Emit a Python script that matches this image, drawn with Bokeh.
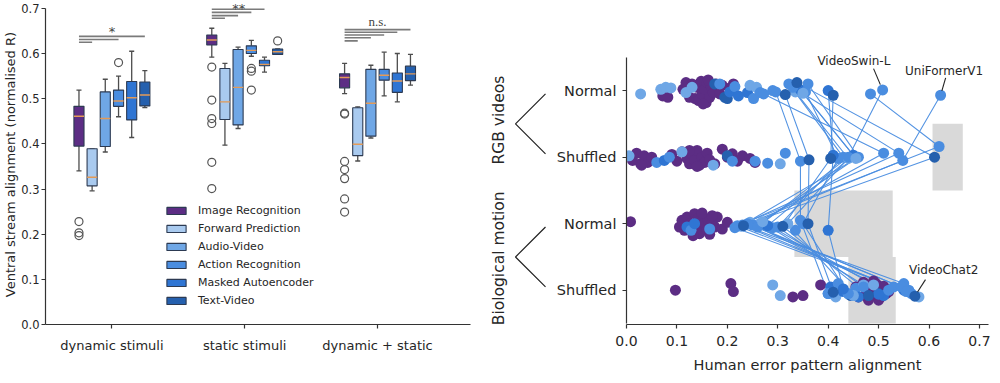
import numpy as np
from bokeh.plotting import figure
from bokeh.models import (Range1d, FixedTicker, PrintfTickFormatter, Legend,
                          LegendItem, ColumnDataSource)
from bokeh.layouts import row
from bokeh.embed import file_html
from bokeh.resources import INLINE
from bokeh.core.properties import value

FONT = "DejaVu Sans"
TXT = "#262626"

# ================= LEFT PANEL DATA =================
stimuli = ["dynamic stimuli", "static stimuli", "dynamic + static"]
families = ["Image Recognition", "Forward Prediction", "Audio-Video",
            "Action Recognition", "Masked Autoencoder", "Text-Video"]
family_colors = ["#5c2d84", "#a9caef", "#6fa7e6", "#4a8de0", "#2f75d3", "#2560ae"]

# one list per family: [dynamic, static, dynamic + static]
whisker_high = [[0.519, 0.656, 0.578], [0.389, 0.578, 0.482], [0.543, 0.614, 0.574],
                [0.550, 0.629, 0.603], [0.605, 0.592, 0.600], [0.562, 0.610, 0.598]]
q3 = [[0.483, 0.641, 0.555], [0.389, 0.567, 0.480], [0.515, 0.609, 0.565],
      [0.519, 0.617, 0.565], [0.538, 0.585, 0.557], [0.537, 0.610, 0.572]]
median = [[0.461, 0.630, 0.547], [0.326, 0.493, 0.399], [0.456, 0.525, 0.490],
          [0.495, 0.607, 0.552], [0.502, 0.576, 0.539], [0.508, 0.604, 0.555]]
q1 = [[0.395, 0.619, 0.524], [0.307, 0.454, 0.374], [0.394, 0.442, 0.417],
      [0.483, 0.600, 0.541], [0.453, 0.573, 0.514], [0.484, 0.598, 0.540]]
whisker_low = [[0.340, 0.592, 0.511], [0.296, 0.397, 0.362], [0.382, 0.434, 0.413],
               [0.460, 0.594, 0.506], [0.414, 0.559, 0.493], [0.480, 0.598, 0.530]]

outlier_family = [0, 0, 0, 3, 0, 0, 0, 0, 0, 0, 3, 3, 3, 5, 0, 0, 0, 0, 0, 0, 0]
outlier_stim = [0, 0, 0, 0, 1, 1, 1, 1, 1, 1, 1, 1, 1, 1, 2, 2, 2, 2, 2, 2, 2]
outlier_value = [0.228, 0.203, 0.197, 0.580, 0.570, 0.497, 0.456, 0.445, 0.359, 0.301,
                 0.567, 0.561, 0.519, 0.628, 0.468, 0.466, 0.361, 0.343, 0.323, 0.278, 0.249]

# significance bars: from Image Recognition to family index
sig_stim = [0, 0, 0, 1, 1, 1, 1, 2, 2, 2, 2, 2]
sig_to = [5, 3, 1, 4, 3, 2, 1, 5, 4, 3, 2, 1]
sig_level = [0.638, 0.631, 0.625, 0.698, 0.691, 0.684, 0.678,
             0.653, 0.647, 0.641, 0.635, 0.628]
sig_labels = ["*", "**", "n.s."]
sig_label_x = [0.0, 0.955, 2.0]
sig_label_y = [0.648, 0.7152, 0.671]

box_offsets = [-0.248, -0.149, -0.05, 0.05, 0.149, 0.248]
BW, CW = 0.076, 0.038

# ================= RIGHT PANEL DATA =================
row_labels = ["Normal", "Shuffled", "Normal", "Shuffled"]
group_labels = ["RGB videos", "Biological motion"]

# video models connected across the four conditions
lm_family = [3, 3, 3, 2, 4, 3, 3, 4, 5, 3, 3, 3, 3, 5, 5, 2]
lm_rgb_normal = [0.272, 0.296, 0.322, 0.335, 0.345, 0.360, 0.355, 0.400,
                 0.410, 0.484, 0.508, 0.623, 0.330, 0.315, 0.338, 0.350]
lm_rgb_shuffled = [0.510, 0.345, 0.430, 0.440, 0.450, 0.460, 0.420, 0.410,
                   0.405, 0.620, 0.440, 0.548, 0.540, 0.362, 0.611, 0.455]
lm_bio_normal = [0.250, 0.345, 0.300, 0.320, 0.280, 0.230, 0.350, 0.400,
                 0.310, 0.220, 0.260, 0.240, 0.215, 0.360, 0.232, 0.270]
lm_bio_shuffled = [0.560, 0.400, 0.470, 0.450, 0.500, 0.550, 0.440, 0.430,
                   0.480, 0.565, 0.520, 0.545, 0.555, 0.410, 0.572, 0.490]
lm_jit_rgb_normal = [0.05, 0.02, -0.10, 0.02, -0.01, -0.10, 0.02, 0.00,
                     0.07, 0.05, -0.01, 0.07, -0.05, 0.06, -0.12, 0.04]
lm_jit_rgb_shuffled = [-0.06, 0.06, 0.00, 0.02, -0.03, 0.00, 0.02, -0.03,
                       0.02, -0.16, 0.00, 0.05, -0.06, 0.04, 0.00, 0.02]
lm_jit_bio_normal = [0.02, -0.05, 0.05, 0.00, 0.03, 0.02, 0.00, 0.10,
                     0.04, 0.03, 0.05, 0.00, 0.06, 0.00, 0.03, -0.03]
lm_jit_bio_shuffled = [0.00, 0.05, -0.05, 0.08, 0.06, -0.10, 0.05, -0.02,
                       0.08, 0.05, 0.00, -0.05, 0.02, 0.03, 0.09, -0.08]

# image-recognition models (no lines)
rgbN_img_x = [0.072, 0.082, 0.112, 0.118, 0.125, 0.130, 0.136, 0.140, 0.143, 0.148, 0.150, 0.155, 0.158,
              0.160, 0.165, 0.168, 0.172, 0.178, 0.185, 0.190, 0.198, 0.205, 0.212, 0.152, 0.162]
rgbN_img_j = [0.08, 0.10, -0.02, -0.12, 0.10, -0.10, 0.12, -0.05, 0.15, -0.14, 0.05, -0.02, 0.18,
              -0.12, 0.10, -0.06, 0.03, -0.10, 0.05, -0.08, 0.10, -0.04, -0.10, 0.20, -0.16]
rgbS_img_x = [0.012, 0.020, 0.028, 0.035, 0.042, 0.050, 0.090, 0.100, 0.110, 0.120, 0.125, 0.130, 0.135,
              0.140, 0.145, 0.150, 0.155, 0.160, 0.165, 0.175, 0.190, 0.200, 0.210, 0.220, 0.230, 0.245,
              0.255, 0.140, 0.125, 0.030]
rgbS_img_j = [0.05, -0.06, 0.10, -0.02, 0.08, 0.00, -0.04, 0.06, -0.08, 0.02, 0.10, -0.05, 0.05,
              -0.10, 0.12, 0.00, 0.08, -0.06, 0.04, 0.10, -0.12, 0.00, -0.05, 0.06, -0.02, 0.02,
              0.08, 0.14, -0.10, 0.12]
bioN_img_x = [0.008, 0.105, 0.110, 0.115, 0.120, 0.125, 0.130, 0.135, 0.140, 0.142, 0.145, 0.150,
              0.155, 0.160, 0.162, 0.165, 0.170, 0.175, 0.180, 0.190, 0.200, 0.132, 0.150, 0.170]
bioN_img_j = [-0.03, 0.05, -0.05, 0.10, -0.10, 0.00, 0.12, -0.15, 0.05, -0.08, 0.15, -0.12,
              0.00, 0.10, -0.06, 0.16, -0.02, 0.05, -0.10, 0.08, -0.02, 0.18, -0.16, -0.12]
bioS_img_x = [0.097, 0.207, 0.212, 0.330, 0.350, 0.385, 0.455, 0.460, 0.470, 0.475, 0.480,
              0.485, 0.490, 0.495, 0.500, 0.505, 0.510, 0.515, 0.520, 0.500, 0.490, 0.480]
bioS_img_j = [0.00, -0.10, 0.02, 0.10, 0.08, -0.08, -0.05, 0.10, -0.12, 0.05, 0.12,
              -0.02, 0.08, -0.10, 0.00, 0.10, -0.06, 0.05, 0.02, 0.15, -0.14, 0.15]

# other video models (no lines)
rgbN_vid_x = [0.028, 0.068, 0.078, 0.088, 0.118, 0.130, 0.175, 0.185, 0.195, 0.200,
              0.205, 0.215, 0.222, 0.240, 0.245, 0.252, 0.258, 0.265, 0.290]
rgbN_vid_j = [0.05, -0.02, -0.05, -0.04, 0.03, -0.05, -0.10, -0.10, 0.10, 0.12,
              0.02, -0.06, 0.08, 0.03, -0.08, 0.12, -0.05, 0.03, 0.00]
rgbN_vid_f = [2, 2, 2, 2, 2, 2, 5, 3, 5, 5, 4, 3, 4, 4, 2, 3, 2, 3, 3]
rgbS_vid_x = [0.005, 0.060, 0.075, 0.085, 0.110, 0.172, 0.200, 0.210, 0.255, 0.280, 0.305, 0.315]
rgbS_vid_j = [-0.02, 0.08, 0.05, 0.00, -0.08, 0.12, -0.02, 0.06, 0.06, 0.09, 0.10, -0.06]
rgbS_vid_f = [2, 3, 4, 3, 2, 2, 5, 3, 3, 3, 2, 3]
bioN_vid_x = [0.120, 0.128, 0.135, 0.165, 0.228, 0.245, 0.272, 0.290, 0.335]
bioN_vid_j = [0.05, 0.10, 0.00, 0.08, 0.04, -0.02, 0.00, 0.06, 0.10]
bioN_vid_f = [4, 3, 4, 3, 2, 2, 5, 3, 3]
bioS_vid_x = [0.290, 0.305, 0.400, 0.405, 0.415, 0.420, 0.430, 0.440, 0.445, 0.455,
              0.460, 0.470, 0.500, 0.510, 0.530, 0.550, 0.580]
bioS_vid_j = [-0.08, 0.08, 0.05, -0.05, 0.10, -0.10, 0.02, 0.06, 0.08, -0.03,
              0.10, -0.08, 0.05, 0.08, -0.05, 0.00, 0.10]
bioS_vid_f = [2, 2, 3, 4, 2, 3, 4, 2, 5, 3, 4, 2, 5, 4, 3, 4, 2]

# grey ceiling bands
ceiling_row = [1, 2, 3]
ceiling_low = [0.607, 0.333, 0.440]
ceiling_high = [0.667, 0.528, 0.534]

# annotated models
annot_text = ["VideoSwin-L", "UniFormerV1", "VideoChat2"]
annot_model = [10, 11, 14]
annot_row = [0, 0, 3]
annot_tx = [0.451, 0.630, 0.629]
annot_ty = [-0.45, -0.30, 2.70]
annot_ax = [0.490, 0.633, 0.593]
annot_ay = [-0.33, -0.19, 2.84]


def style_axes(p, size_ticks):
    for ax in (p.xaxis, p.yaxis):
        ax.axis_line_color = "#333333"
        ax.axis_line_width = 1.2
        ax.major_tick_line_color = "#333333"
        ax.major_tick_line_width = 1.2
        ax.major_tick_out = 4
        ax.major_tick_in = 0
        ax.minor_tick_line_color = None
        ax.major_label_text_font = FONT
        ax.major_label_text_color = TXT
        ax.major_label_text_font_size = size_ticks
        ax.axis_label_text_font = FONT
        ax.axis_label_text_color = TXT
        ax.axis_label_text_font_style = "normal"


H = 375
# ================= LEFT FIGURE =================
p1 = figure(width=475, height=H, output_backend="svg", toolbar_location=None,
            x_range=Range1d(-0.5, 2.7), y_range=Range1d(0, 0.7174),
            min_border_left=45, min_border_right=5, min_border_top=0, min_border_bottom=50)
p1.outline_line_color = None
p1.grid.visible = False
style_axes(p1, "11.5px")
p1.yaxis.ticker = FixedTicker(ticks=[0, 0.1, 0.2, 0.3, 0.4, 0.5, 0.6, 0.7])
p1.yaxis.formatter = PrintfTickFormatter(format="%.1f")
p1.yaxis.bounds = (0, 0.7)
p1.yaxis.axis_label = "Ventral stream alignment  (normalised R)"
p1.yaxis.axis_label_text_font_size = "13px"
p1.yaxis.axis_label_standoff = 0
p1.yaxis.major_label_standoff = 2
p1.xaxis.ticker = FixedTicker(ticks=[0, 1, 2])
p1.xaxis.major_label_overrides = {0: stimuli[0], 1: stimuli[1], 2: stimuli[2]}
p1.xaxis.major_label_text_font_size = "13px"
p1.xaxis.major_label_standoff = 9

legend_items = []
for f in range(6):
    xc = [s + box_offsets[f] for s in range(3)]
    src = ColumnDataSource(dict(
        x=xc, lo=whisker_low[f], q1=q1[f], med=median[f], q3=q3[f], hi=whisker_high[f],
        l=[x - BW / 2 for x in xc], r=[x + BW / 2 for x in xc],
        cl=[x - CW / 2 for x in xc], cr=[x + CW / 2 for x in xc]))
    p1.segment(x0="x", y0="lo", x1="x", y1="q1", source=src, line_color="#4d4d4d", line_width=1.3)
    p1.segment(x0="x", y0="q3", x1="x", y1="hi", source=src, line_color="#4d4d4d", line_width=1.3)
    p1.segment(x0="cl", y0="hi", x1="cr", y1="hi", source=src, line_color="#4d4d4d", line_width=1.3)
    p1.segment(x0="cl", y0="lo", x1="cr", y1="lo", source=src, line_color="#4d4d4d", line_width=1.3)
    r = p1.quad(left="l", right="r", bottom="q1", top="q3", source=src,
                fill_color=family_colors[f], line_color="#2c3a52", line_width=1.1)
    p1.segment(x0="l", y0="med", x1="r", y1="med", source=src, line_color="#e39a57", line_width=1.4)
    legend_items.append(LegendItem(label=families[f], renderers=[r]))

p1.scatter(x=[outlier_stim[i] + box_offsets[outlier_family[i]] for i in range(len(outlier_value))],
           y=outlier_value, marker="circle", size=8, fill_color=None,
           line_color="#555555", line_width=1.2)

p1.segment(x0=[s + box_offsets[0] for s in sig_stim],
           x1=[sig_stim[i] + box_offsets[sig_to[i]] for i in range(len(sig_stim))],
           y0=sig_level, y1=sig_level, line_color="#7a7a7a", line_width=1.6)
p1.text(x=sig_label_x[:1], y=sig_label_y[:1], text=sig_labels[:1], text_align="center",
        text_baseline="alphabetic", text_font=value(FONT), text_font_size="13px",
        text_color="#444444")
p1.text(x=sig_label_x[1:2], y=sig_label_y[1:2], text=sig_labels[1:2], text_align="center",
        text_baseline="top", text_font=value(FONT), text_font_size="13px",
        text_color="#444444")
p1.text(x=sig_label_x[2:], y=sig_label_y[2:], text=sig_labels[2:], text_align="center",
        text_baseline="alphabetic", text_font=value("Liberation Serif"), text_font_size="13px",
        text_color="#444444")

legend = Legend(items=legend_items, location=(119, 17), padding=0, margin=0, spacing=5,
                glyph_width=24, glyph_height=9, label_height=12, label_standoff=10,
                label_text_font=FONT, label_text_font_size="11px", label_text_color=TXT,
                border_line_color=None, background_fill_alpha=0)
p1.add_layout(legend)

# ================= RIGHT FIGURE =================
yr = Range1d(3.515, -1.354)
p2 = figure(width=448, height=H, output_backend="svg", toolbar_location=None,
            x_range=Range1d(0, 0.718), y_range=yr,
            min_border_left=74, min_border_right=12, min_border_top=0, min_border_bottom=50)
p2.outline_line_color = None
p2.grid.visible = False
style_axes(p2, "14.5px")
p2.xaxis.ticker = FixedTicker(ticks=[0, 0.1, 0.2, 0.3, 0.4, 0.5, 0.6, 0.7])
p2.xaxis.formatter = PrintfTickFormatter(format="%.1f")
p2.xaxis.major_label_text_font_size = "14px"
p2.xaxis.major_label_standoff = 7
p2.xaxis.axis_label = "Human error pattern alignment"
p2.xaxis.axis_label_text_font_size = "14.5px"
p2.xaxis.axis_label_standoff = 8
p2.yaxis.ticker = FixedTicker(ticks=[0, 1, 2, 3])
p2.yaxis.major_label_overrides = {i: row_labels[i] for i in range(4)}
p2.yaxis.bounds = (-0.5, 3.5)
p2.yaxis.major_label_standoff = 6

p2.quad(left=ceiling_low, right=ceiling_high,
        bottom=[r - 0.5 for r in ceiling_row], top=[r + 0.5 for r in ceiling_row],
        fill_color="#d9d9d9", line_color=None)

n_lm = len(lm_family)
lm_xs = [[lm_rgb_normal[i], lm_rgb_shuffled[i], lm_bio_normal[i], lm_bio_shuffled[i]]
         for i in range(n_lm)]
lm_ys = [[0 + lm_jit_rgb_normal[i], 1 + lm_jit_rgb_shuffled[i],
          2 + lm_jit_bio_normal[i], 3 + lm_jit_bio_shuffled[i]] for i in range(n_lm)]
p2.multi_line(xs=lm_xs, ys=lm_ys, line_color="#4a8de0", line_width=1.1, line_alpha=0.95)

img_x = rgbN_img_x + rgbS_img_x + bioN_img_x + bioS_img_x
img_y = ([0 + j for j in rgbN_img_j] + [1 + j for j in rgbS_img_j] +
         [2 + j for j in bioN_img_j] + [3 + j for j in bioS_img_j])
p2.scatter(x=img_x, y=img_y, size=11, marker="circle", fill_color=family_colors[0], line_color=None)

vid_x = rgbN_vid_x + rgbS_vid_x + bioN_vid_x + bioS_vid_x
vid_y = ([0 + j for j in rgbN_vid_j] + [1 + j for j in rgbS_vid_j] +
         [2 + j for j in bioN_vid_j] + [3 + j for j in bioS_vid_j])
vid_c = [family_colors[f] for f in rgbN_vid_f + rgbS_vid_f + bioN_vid_f + bioS_vid_f]
p2.scatter(x=vid_x, y=vid_y, size=11, marker="circle", fill_color=vid_c, line_color=None)

lm_px = sum(lm_xs, [])
lm_py = sum(lm_ys, [])
lm_pc = [family_colors[lm_family[i]] for i in range(n_lm) for _ in range(4)]
p2.scatter(x=lm_px, y=lm_py, size=11, marker="circle", fill_color=lm_pc, line_color=None)

# annotations
ax1, ay1 = [], []
for k in range(3):
    px = lm_xs[annot_model[k]][annot_row[k]]
    py = lm_ys[annot_model[k]][annot_row[k]]
    ax1.append(annot_ax[k] + 0.75 * (px - annot_ax[k]))
    ay1.append(annot_ay[k] + 0.75 * (py - annot_ay[k]))
p2.segment(x0=annot_ax, y0=annot_ay, x1=ax1, y1=ay1, line_color="#222222", line_width=1.1)
p2.text(x=annot_tx, y=annot_ty, text=annot_text, text_align="center", text_baseline="middle",
        text_font=value(FONT), text_font_size="12px", text_color=TXT)

# ================= GROUP BRACKETS =================
p3 = figure(width=77, height=H, output_backend="svg", toolbar_location=None,
            x_range=Range1d(0, 77), y_range=yr, x_axis_type=None, y_axis_type=None,
            min_border_left=0, min_border_right=0, min_border_top=0, min_border_bottom=50)
p3.outline_line_color = None
p3.grid.visible = False
br_xs = [[70, 40, 70] for g in range(2)]
br_ys = [[2 * g + 0.05, 2 * g + 0.5, 2 * g + 0.95] for g in range(2)]
p3.multi_line(xs=br_xs, ys=br_ys, line_color="#222222", line_width=1.2)
p3.text(x=[23, 23], y=[0.444, 2.52], text=group_labels, angle=np.pi / 2, text_align="center",
        text_baseline="middle", text_font=value(FONT), text_font_size="15.5px", text_color=TXT)

layout = row(p1, p3, p2)
open("out.html", "w").write(file_html(layout, INLINE))
